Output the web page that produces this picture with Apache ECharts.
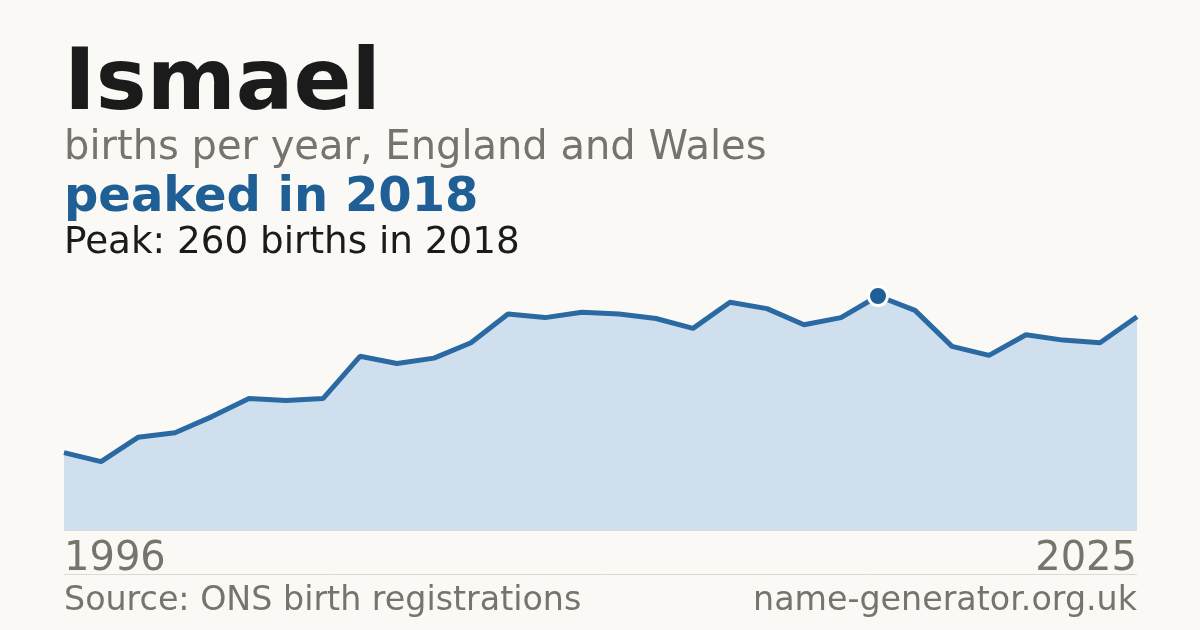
<!DOCTYPE html>
<html>
<head>
<meta charset="utf-8">
<script src="https://cdn.jsdelivr.net/npm/echarts@6/dist/echarts.min.js"></script>
<style>
html,body{margin:0;padding:0;background:#faf9f5;}
#c{width:1200px;height:630px;}
</style>
</head>
<body>
<div id="c"></div>
<script>
const years = ['1996','1997','1998','1999','2000','2001','2002','2003','2004','2005','2006','2007','2008','2009','2010','2011','2012','2013','2014','2015','2016','2017','2018','2019','2020','2021','2022','2023','2024','2025'];
const births = [86,76,103,108,126,146,144,146,193,185,191,208,240,236,242,240,235,224,253,246,228,236,260,244,204,194,217,211,208,237];
const peakYear = '2018';
const peakValue = 260;
const titleText = 'Ismael';
const subtitleText = 'births per year, England and Wales';
const headlineText = 'peaked in 2018';
const peakText = 'Peak: 260 births in 2018';
const sourceText = 'Source: ONS birth registrations';
const siteText = 'name-generator.org.uk';

const FONT = 'DejaVu Sans';
const chart = echarts.init(document.getElementById('c'), null, {renderer:'canvas'});
const lastIdx = years.length - 1;
function txt(opts, text, size, weight, color){
  return Object.assign({type:'text', style:{text: text, fontSize: size, fontWeight: weight, fontFamily: FONT, fill: color}}, opts);
}
chart.setOption({
  backgroundColor: '#faf9f5',
  animation: false,
  grid: {left: 64, right: 63, top: 260, bottom: 100},
  xAxis: {
    type: 'category', data: years, boundaryGap: false,
    axisLine: {show: true, lineStyle: {color: '#dcdad4', width: 1}},
    axisTick: {show: false},
    splitLine: {show: false},
    axisLabel: {
      interval: function(i){ return i === 0 || i === lastIdx; },
      color: '#78736c', fontFamily: FONT, fontSize: 40, margin: 10,
      alignMinLabel: 'left', alignMaxLabel: 'right'
    }
  },
  yAxis: {type: 'value', min: 0, max: 300, show: false, splitLine: {show: false}},
  series: [
    {
      type: 'line', data: births, showSymbol: false, symbol: 'none',
      lineStyle: {color: '#2b69a2', width: 5},
      areaStyle: {color: '#cfdfee', opacity: 1},
      z: 2
    },
    {
      type: 'scatter', data: [[peakYear, peakValue]],
      symbol: 'circle', symbolSize: 19,
      itemStyle: {color: '#1f5f96', borderColor: '#ffffff', borderWidth: 3, opacity: 1},
      z: 5
    }
  ],
  graphic: [
    txt({left: 64, top: 44}, titleText, 85.5, 'bold', '#1b1b1b'),
    txt({left: 64, top: 129}, subtitleText, 40, 'normal', '#78736c'),
    txt({left: 64, top: 175}, headlineText, 48, 'bold', '#1f5f96'),
    txt({left: 64, top: 225}, peakText, 37.3, 'normal', '#1b1b1b'),
    {type:'line', shape:{x1:64, y1:574.5, x2:1137, y2:574.5}, style:{stroke:'#dcdad4', lineWidth:1}},
    txt({left: 64, top: 585}, sourceText, 33.3, 'normal', '#78736c'),
    txt({right: 63, top: 585}, siteText, 33.3, 'normal', '#78736c')
  ]
});
</script>
</body>
</html>
